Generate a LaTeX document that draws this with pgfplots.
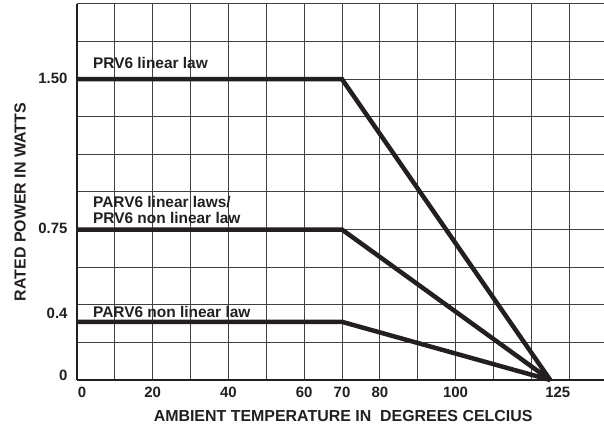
\documentclass[border=0pt]{standalone}
\usepackage{pgfplots}
\pgfplotsset{compat=1.18}
\usepackage{fontspec}
\setmainfont{Liberation Sans}
\definecolor{ink}{RGB}{35,31,32}

\begin{document}
\begin{tikzpicture}
\begin{axis}[
  name=ax, scale only axis, width=527bp, height=376bp,
  xmin=0, xmax=139.2, ymin=0, ymax=1.875,
  clip=false,
  axis lines*=left,
  axis line style={ink, line width=1.8bp, -},
  xtick={1.3,20,40,60,70,80,100,127},
  xticklabels={0,20,40,60,70,80,100,125},
  ytick={0.025,0.33,0.755,1.505},
  yticklabels={0,0.4,0.75,1.50},
  minor xtick={10,20,30,40,50,60,70,80,90,100,110,120,130},
  minor ytick={0.1875,0.375,0.5625,0.75,0.9375,1.125,1.3125,1.5,1.6875,1.875},
  xminorgrids=true, yminorgrids=true,
  xmajorgrids=false, ymajorgrids=false,
  minor grid style={black!75, line width=1bp},
  major tick length=0pt, minor tick length=0pt,
  tick label style={font=\fontsize{15}{17}\selectfont\bfseries, text=ink},
  xticklabel style={yshift=-4bp},
  yticklabel style={xshift=-6bp},
  /pgf/number format/assume math mode=true,
  xlabel={AMBIENT TEMPERATURE IN~~DEGREES CELCIUS},
  ylabel={RATED POWER IN WATTS},
  label style={font=\fontsize{16}{18}\selectfont\bfseries, text=ink},
  xlabel style={at={(axis description cs:0.505,-0.0957)}, anchor=center},
  ylabel style={at={(axis description cs:-0.108,0.473)}, anchor=center},
]
\addplot[ink, line width=4.5bp] coordinates {(0,1.5) (70,1.5) (125,0)};
\addplot[ink, line width=4.5bp] coordinates {(0,0.75) (70,0.75) (125,0)};
\addplot[ink, line width=4.5bp] coordinates {(0,0.29) (70,0.29) (125,0)};

\node[anchor=base west, font=\fontsize{15.5}{17}\selectfont\bfseries, text=ink, inner sep=0pt]
  at (axis cs:4.2,1.551) {PRV6 linear law};
\node[anchor=base west, font=\fontsize{15.5}{17}\selectfont\bfseries, text=ink, inner sep=0pt]
  at (axis cs:4.2,0.858) {PARV6 linear laws/};
\node[anchor=base west, font=\fontsize{15.5}{17}\selectfont\bfseries, text=ink, inner sep=0pt]
  at (axis cs:4.2,0.778) {PRV6 non linear law};
\node[anchor=base west, font=\fontsize{15.5}{17}\selectfont\bfseries, text=ink, inner sep=0pt]
  at (axis cs:4.2,0.314) {PARV6 non linear law};
\end{axis}
\pgfresetboundingbox
\path[use as bounding box] ([xshift=-77bp,yshift=-46bp]ax.south west) rectangle ([yshift=4bp]ax.north east);
\end{tikzpicture}
\end{document}
